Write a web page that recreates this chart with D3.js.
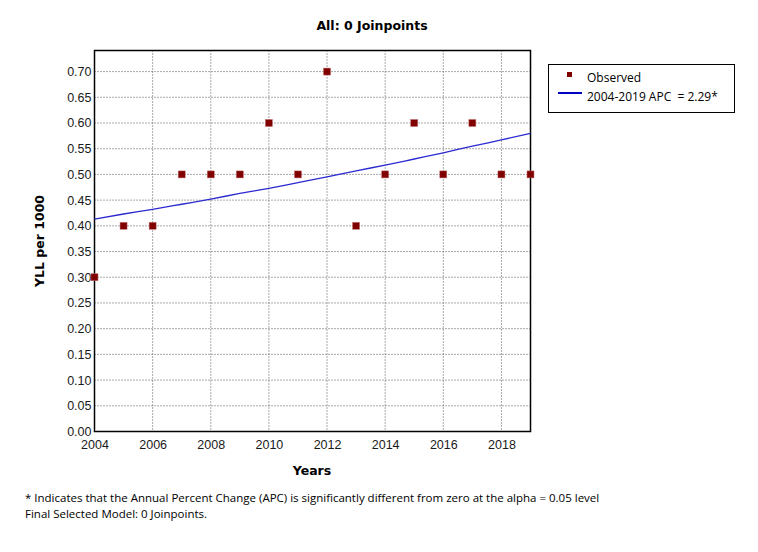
<!DOCTYPE html>
<html>
<head>
<meta charset="utf-8">
<script src="https://cdn.jsdelivr.net/npm/d3@7/dist/d3.min.js"></script>
<style>
	body { margin: 0; background: #ffffff; }
	svg text { font-family: "Liberation Sans", Arial, sans-serif; }
	.grid line { stroke: #555555; stroke-dasharray: 1 2; }
	.tick text { font-size: 12.5px; fill: #1a1a1a; }
</style>
</head>
<body>
<div id="chart"></div>
<script>
	// observed values
	var years = [2004, 2005, 2006, 2007, 2008, 2009, 2010, 2011, 2012, 2013, 2014, 2015, 2016, 2017, 2018, 2019];
	var observed = [0.30, 0.40, 0.40, 0.50, 0.50, 0.50, 0.60, 0.50, 0.70, 0.40, 0.50, 0.60, 0.50, 0.60, 0.50, 0.50];
	// modelled line (APC 2.29)
	var fitted = [0.413, 0.423, 0.432, 0.442, 0.452, 0.463, 0.473, 0.484, 0.495, 0.507, 0.518, 0.530, 0.542, 0.555, 0.567, 0.580];

	var xTicks = [2004, 2006, 2008, 2010, 2012, 2014, 2016, 2018];
	var yTicks = [0, 0.05, 0.10, 0.15, 0.20, 0.25, 0.30, 0.35, 0.40, 0.45, 0.50, 0.55, 0.60, 0.65, 0.70];

	var legendLabels = ["Observed", "2004-2019 APC  = 2.29*"];
	var footnotes = [
		"* Indicates that the Annual Percent Change (APC) is significantly different from zero at the alpha = 0.05 level",
		"Final Selected Model: 0 Joinpoints."
	];

	var W = 758, H = 552;
	var pLeft = 94.5, pRight = 530.5, pTop = 50.5, pBottom = 431.5;

	var svg = d3.select("#chart").append("svg")
		.attr("width", W).attr("height", H);

	var x = d3.scaleLinear().domain([2004, 2019]).range([pLeft, pRight]);
	var y = d3.scaleLinear().domain([0, 0.741]).range([pBottom, pTop]);

	// grid
	svg.append("g").attr("class", "grid")
		.selectAll("line.v").data(xTicks.slice(1)).enter().append("line")
		.attr("x1", d => x(d)).attr("x2", d => x(d))
		.attr("y1", pTop).attr("y2", pBottom);
	svg.append("g").attr("class", "grid")
		.selectAll("line.h").data(yTicks.slice(1)).enter().append("line")
		.attr("x1", pLeft).attr("x2", pRight)
		.attr("y1", d => y(d)).attr("y2", d => y(d));

	// axes
	var xAxis = d3.axisBottom(x).tickValues(xTicks).tickFormat(d3.format("d")).tickSize(0).tickPadding(9);
	svg.append("g").attr("transform", "translate(0," + pBottom + ")").call(xAxis)
		.call(g => g.select(".domain").remove());

	var yAxis = d3.axisLeft(y).tickValues(yTicks).tickFormat(d3.format(".2f")).tickSize(0).tickPadding(3);
	svg.append("g").attr("transform", "translate(" + pLeft + ",0)").call(yAxis)
		.call(g => g.select(".domain").remove());

	// frame
	svg.append("rect")
		.attr("x", pLeft).attr("y", pTop)
		.attr("width", pRight - pLeft).attr("height", pBottom - pTop)
		.attr("fill", "none").attr("stroke", "#000").attr("stroke-width", 1.5);

	// fitted line
	var line = d3.line().x((d, i) => x(years[i])).y(d => y(d)).curve(d3.curveMonotoneX);
	svg.append("path").datum(fitted)
		.attr("d", line)
		.attr("fill", "none").attr("stroke", "#2a2ad0").attr("stroke-width", 1.3);

	// observed points
	svg.append("g").selectAll("rect").data(observed).enter().append("rect")
		.attr("x", (d, i) => x(years[i]) - 3.5)
		.attr("y", d => y(d) - 3.5)
		.attr("width", 7).attr("height", 7)
		.attr("fill", "#800000")
		.attr("stroke", "#c07070").attr("stroke-width", 0.5);

	// titles
	svg.append("text")
		.attr("x", 372).attr("y", 30)
		.attr("text-anchor", "middle")
		.style("font-family", "'DejaVu Sans', Verdana, sans-serif")
		.style("font-weight", "bold").style("font-size", "12.5px")
		.text("All: 0 Joinpoints");

	svg.append("text")
		.attr("x", 312).attr("y", 475)
		.attr("text-anchor", "middle")
		.style("font-family", "'DejaVu Sans', Verdana, sans-serif")
		.style("font-weight", "bold").style("font-size", "12.5px")
		.text("Years");

	svg.append("text")
		.attr("transform", "translate(44,241) rotate(-90)")
		.attr("text-anchor", "middle")
		.style("font-family", "'DejaVu Sans', Verdana, sans-serif")
		.style("font-weight", "bold").style("font-size", "12.5px")
		.text("YLL per 1000");

	// legend
	var lg = svg.append("g");
	lg.append("rect")
		.attr("x", 548.5).attr("y", 64.5).attr("width", 186).attr("height", 48)
		.attr("fill", "#fff").attr("stroke", "#000").attr("stroke-width", 1);
	lg.append("rect")
		.attr("x", 567).attr("y", 72).attr("width", 5).attr("height", 5)
		.attr("fill", "#800000");
	lg.append("line")
		.attr("x1", 558).attr("x2", 582).attr("y1", 93).attr("y2", 93)
		.attr("stroke", "#0000c0").attr("stroke-width", 2);
	lg.selectAll("text").data(legendLabels).enter().append("text")
		.attr("x", 587).attr("y", (d, i) => 82 + i * 19)
		.style("font-family", "'Open Sans', 'Noto Sans', sans-serif")
		.style("font-size", "12px")
		.style("white-space", "pre")
		.text(d => d);

	// footnotes
	svg.selectAll("text.foot").data(footnotes).enter().append("text")
		.attr("class", "foot")
		.attr("x", 25).attr("y", (d, i) => 502 + i * 16)
		.style("font-family", "'Open Sans', 'Noto Sans', sans-serif")
		.style("font-size", "11.5px")
		.text(d => d);
</script>
</body>
</html>
